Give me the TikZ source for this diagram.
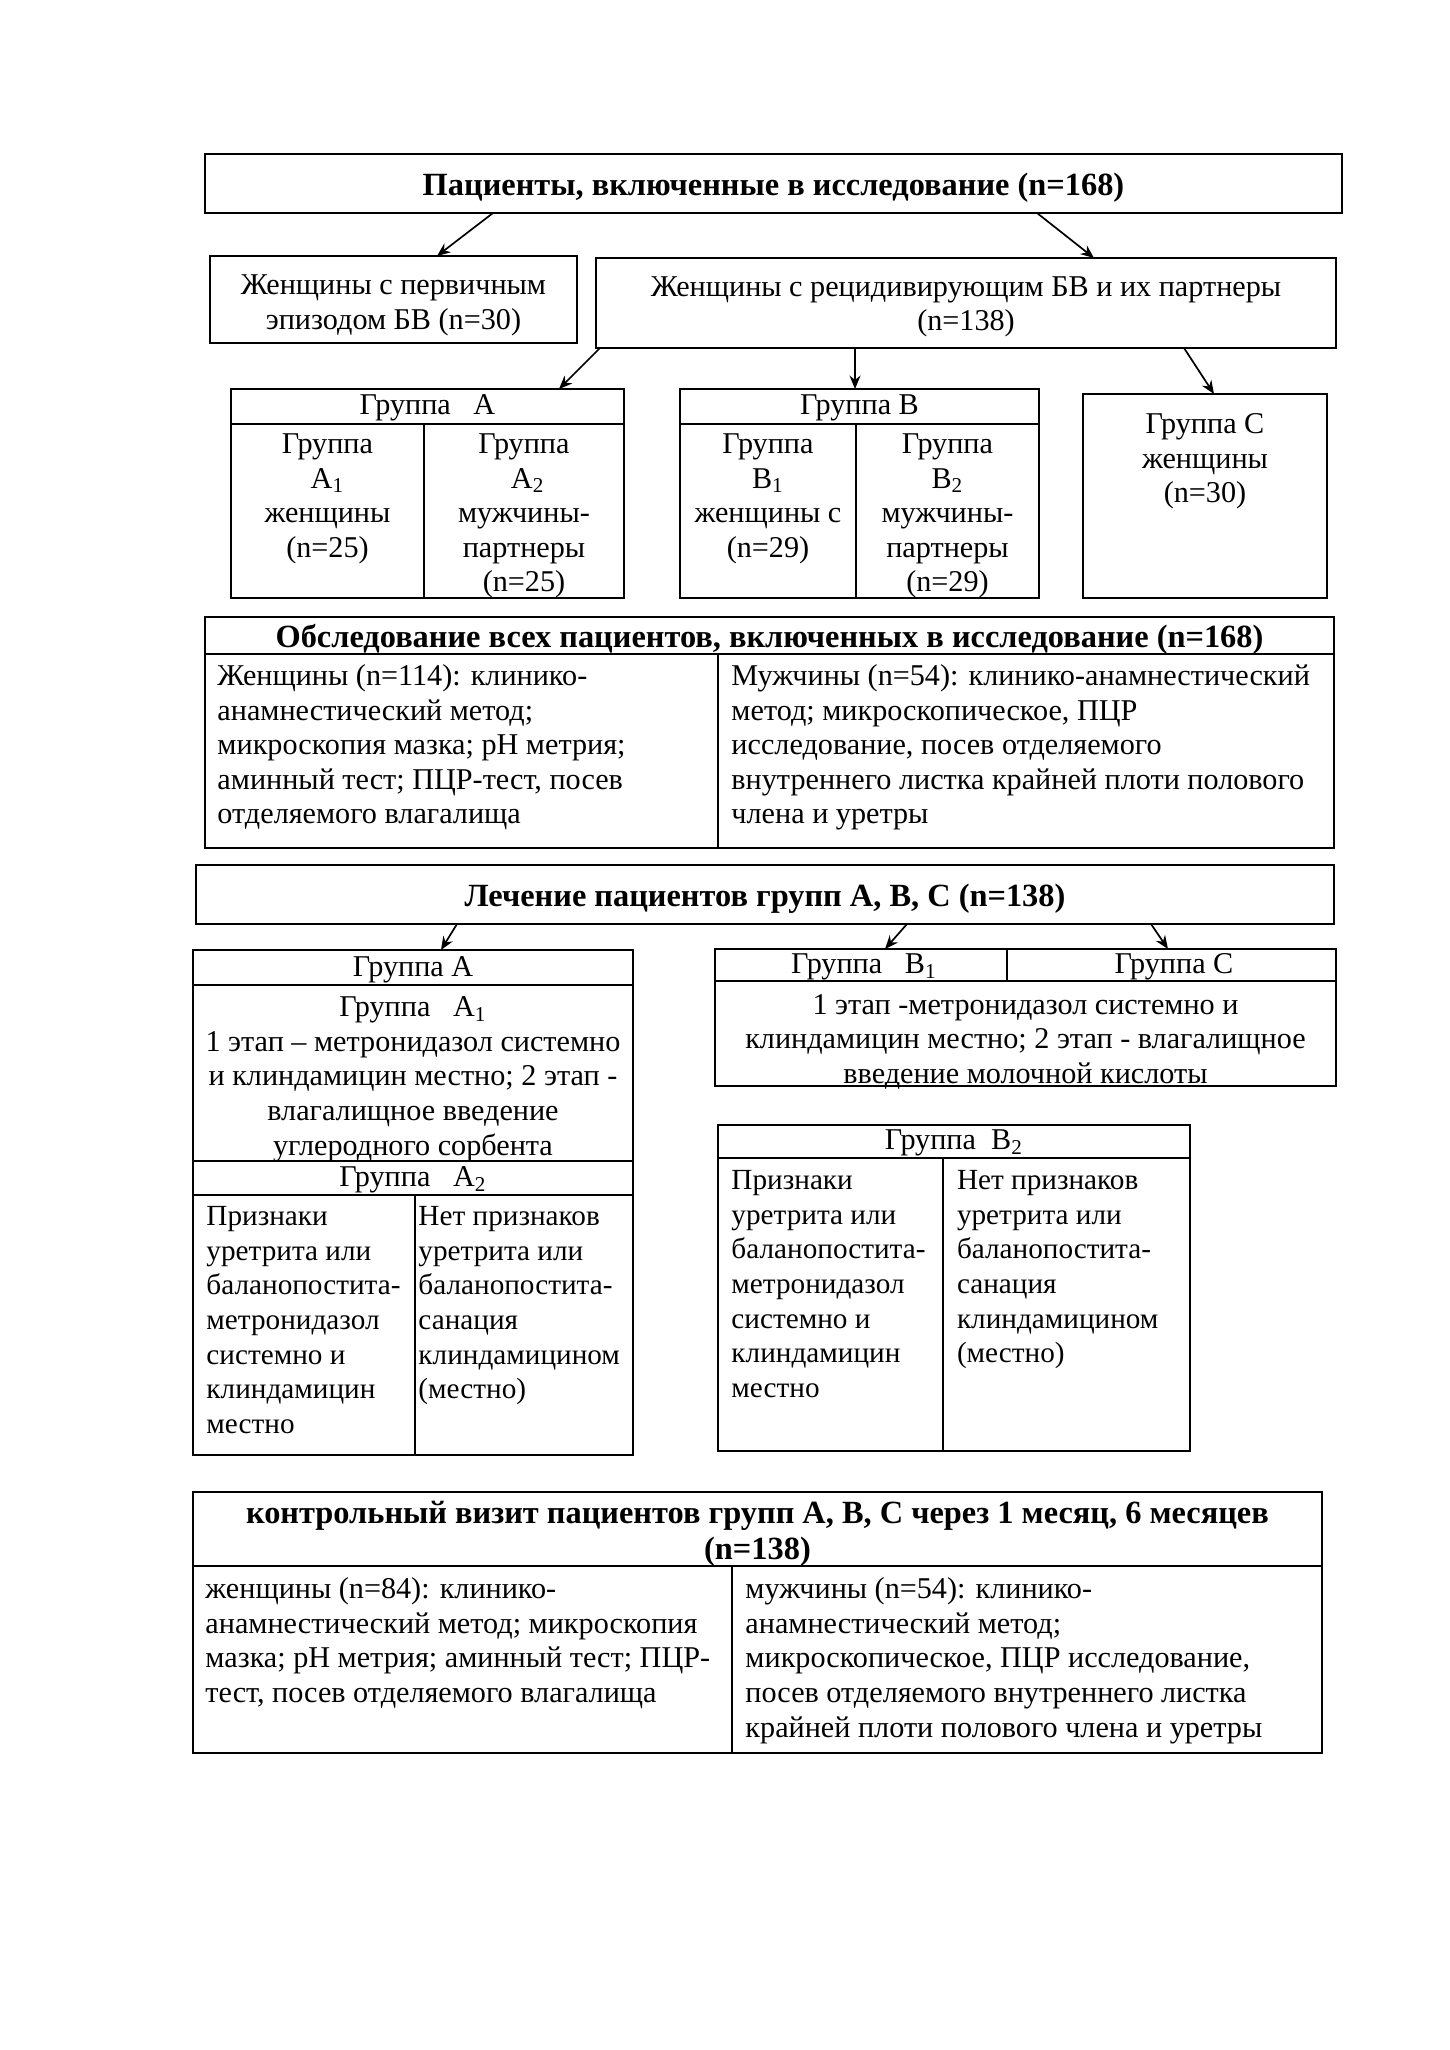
\documentclass[tikz,border=0pt]{standalone}
\usepackage{fontspec}
\setmainfont{Liberation Serif}
\usetikzlibrary{arrows.meta,calc}
\def\PXU{0.4107pt}
\newcommand\mkbox[5]{\node[box, minimum width={(#4-#2)*0.4107pt}, minimum height={(#5-#3)*0.4107pt}] (#1) at ({(#2+#4)/2},{(#3+#5)/2}) {};}
\tikzset{
  box/.style={draw, line width=1pt, inner sep=0pt, outer sep=0pt, anchor=center},
  arr/.style={-{Stealth[length=5.5pt,width=4.5pt]}, line width=0.7pt},
  txt/.style={inner sep=0pt, font=\fontsize{12.4}{14.2}\selectfont},
  cell/.style={inner sep=0pt, font=\fontsize{12}{14.2}\selectfont},
  ttl/.style={inner sep=0pt, font=\fontsize{13.3}{15}\selectfont\bfseries},
  ln/.style={line width=1pt}
}
\begin{document}
\begin{tikzpicture}[x=0.4107pt, y=-0.4107pt]
\useasboundingbox (0,0) rectangle (1449,2050);

% ---- top level
\mkbox{top}{205}{154}{1342}{213}
\node[ttl, yshift={-4*\PXU}] (toptxt) at (top.center) {Пациенты, включенные в исследование (n=168)};

\mkbox{prim}{210}{256}{577}{343}
\node[txt, align=center, yshift={-6*\PXU}] (primtxt) at (prim.center) {Женщины с первичным\\эпизодом БВ (n=30)};

\mkbox{rec}{596}{258}{1336}{348}
\node[txt, align=center, yshift={-4*\PXU}] (rectxt) at (rec.center) {Женщины с рецидивирующим БВ и их партнеры\\(n=138)};

\draw[arr] ([xshift={288*\PXU}]top.south west) -- ([xshift={227*\PXU}]prim.north west);
\draw[arr] ([xshift={832*\PXU}]top.south west) -- ([xshift={498*\PXU}]rec.north west);

% ---- groups
\mkbox{ga}{231}{389}{624}{598}
\draw[ln] (ga.west |- 0,424) -- (ga.east |- 0,424);
\draw[ln] (424,424) -- (ga.south -| 424,0);
\node[txt] (gatxt) at (427.5,408) {Группа\ \ \ А};
\node[txt, align=center, anchor=north] (ga1) at (327.5,429) {\strut Группа\\А\textsubscript{1}\\женщины\\(n=25)};
\node[txt, align=center, anchor=north] (ga2) at (524,429) {\strut Группа\\\ А\textsubscript{2}\\мужчины-\\партнеры\\(n=25)};

\mkbox{gb}{680}{389}{1039}{598}
\draw[ln] (gb.west |- 0,424) -- (gb.east |- 0,424);
\draw[ln] (856,424) -- (gb.south -| 856,0);
\node[txt] (gbtxt) at (859.5,408) {Группа В};
\node[txt, align=center, anchor=north] (gb1) at (768,429) {\strut Группа\\В\textsubscript{1}\\женщины с\\(n=29)};
\node[txt, align=center, anchor=north] (gb2) at (947.5,429) {\strut Группа\\В\textsubscript{2}\\мужчины-\\партнеры\\(n=29)};

\mkbox{gc}{1083}{394}{1327}{598}
\node[txt, align=center, anchor=north] (gctxt) at (1205,409) {\strut Группа С\\женщины\\(n=30)};

\draw[arr] ([xshift={4*\PXU}]rec.south west) -- ([xshift={328*\PXU}]ga.north west);
\draw[arr] ([xshift={259*\PXU}]rec.south west) -- ([xshift={175*\PXU}]gb.north west);
\draw[arr] ([xshift={588*\PXU}]rec.south west) -- ([xshift={131*\PXU}]gc.north west);

% ---- examination
\mkbox{ex}{205}{617}{1334}{848}
\draw[ln] (ex.west |- 0,654) -- (ex.east |- 0,654);
\draw[ln] (718,654) -- (ex.south -| 718,0);
\node[ttl] (extxt) at (769.5,639) {Обследование всех пациентов, включенных в исследование (n=168)};
\node[txt, align=left, anchor=north west] (exl) at (217,661) {\strut Женщины (n=114): клинико-\\анамнестический метод;\\микроскопия мазка; pH метрия;\\аминный тест; ПЦР-тест, посев\\отделяемого влагалища};
\node[txt, align=left, anchor=north west] (exr) at (731,661) {\strut Мужчины (n=54): клинико-анамнестический\\метод; микроскопическое, ПЦР\\исследование, посев отделяемого\\внутреннего листка крайней плоти полового\\члена и уретры};

% ---- treatment
\mkbox{tr}{196}{865}{1334}{924}
\node[ttl, yshift={-4*\PXU}] (trtxt) at (tr.center) {Лечение пациентов групп А, В, С (n=138)};

\mkbox{ta}{193}{950}{633}{1455}
\draw[ln] (ta.west |- 0,985) -- (ta.east |- 0,985);
\draw[ln] (ta.west |- 0,1161) -- (ta.east |- 0,1161);
\draw[ln] (ta.west |- 0,1195) -- (ta.east |- 0,1195);
\draw[ln] (415,1195) -- (ta.south -| 415,0);
\node[txt] (tah) at (413,969.5) {Группа А};
\node[txt, align=center, anchor=north] (ta1) at (413,992) {\strut Группа\ \ \ А\textsubscript{1}\\1 этап – метронидазол системно\\и клиндамицин местно; 2 этап -\\влагалищное введение\\углеродного сорбента};
\node[txt] (ta2h) at (413,1180) {Группа\ \ \ А\textsubscript{2}};
\node[cell, align=left, anchor=north west] (ta2l) at (206,1201) {\strut Признаки\\уретрита или\\баланопостита-\\метронидазол\\системно и\\клиндамицин\\местно};
\node[cell, align=left, anchor=north west] (ta2r) at (418,1201) {\strut Нет признаков\\уретрита или\\баланопостита-\\санация\\клиндамицином\\(местно)};

\mkbox{tbc}{715}{949}{1336}{1086}
\draw[ln] (tbc.west |- 0,981) -- (tbc.east |- 0,981);
\draw[ln] (tbc.north -| 1007,0) -- (1007,981);
\node[txt] (tb1h) at (864,967) {Группа\ \ \ В\textsubscript{1}};
\node[txt] (tch) at (1174,967) {Группа С};
\node[txt, align=center, anchor=north] (tbctxt) at (1025.5,989.5) {\strut 1 этап -метронидазол системно и\\клиндамицин местно; 2 этап - влагалищное\\введение молочной кислоты};

\mkbox{tb2}{718}{1125}{1190}{1451}
\draw[ln] (tb2.west |- 0,1158) -- (tb2.east |- 0,1158);
\draw[ln] (943,1158) -- (tb2.south -| 943,0);
\node[txt] (tb2h) at (954,1143) {Группа\ \ В\textsubscript{2}};
\node[cell, align=left, anchor=north west] (tb2l) at (731,1165) {\strut Признаки\\уретрита или\\баланопостита-\\метронидазол\\системно и\\клиндамицин\\местно};
\node[cell, align=left, anchor=north west] (tb2r) at (956.5,1165) {\strut Нет признаков\\уретрита или\\баланопостита-\\санация\\клиндамицином\\(местно)};

\draw[arr] ([xshift={261*\PXU}]tr.south west) -- ([xshift={248*\PXU}]ta.north west);
\draw[arr] ([xshift={711*\PXU}]tr.south west) -- ([xshift={170*\PXU}]tbc.north west);
\draw[arr] ([xshift={955*\PXU}]tr.south west) -- ([xshift={453*\PXU}]tbc.north west);

% ---- control visit
\mkbox{cv}{193}{1492}{1322}{1753}
\draw[ln] (cv.west |- 0,1566) -- (cv.east |- 0,1566);
\draw[ln] (732,1566) -- (cv.south -| 732,0);
\node[ttl, align=center] (cvtxt) at (757.5,1534) {контрольный визит пациентов групп А, В, С через 1 месяц, 6 месяцев\\(n=138)};
\node[txt, align=left, anchor=north west] (cvl) at (205,1574) {\strut женщины (n=84): клинико-\\анамнестический метод; микроскопия\\мазка; pH метрия; аминный тест; ПЦР-\\тест, посев отделяемого влагалища};
\node[txt, align=left, anchor=north west] (cvr) at (745,1574) {\strut мужчины (n=54): клинико-\\анамнестический метод;\\микроскопическое, ПЦР исследование,\\посев отделяемого внутреннего листка\\крайней плоти полового члена и уретры};
\end{tikzpicture}
\end{document}
